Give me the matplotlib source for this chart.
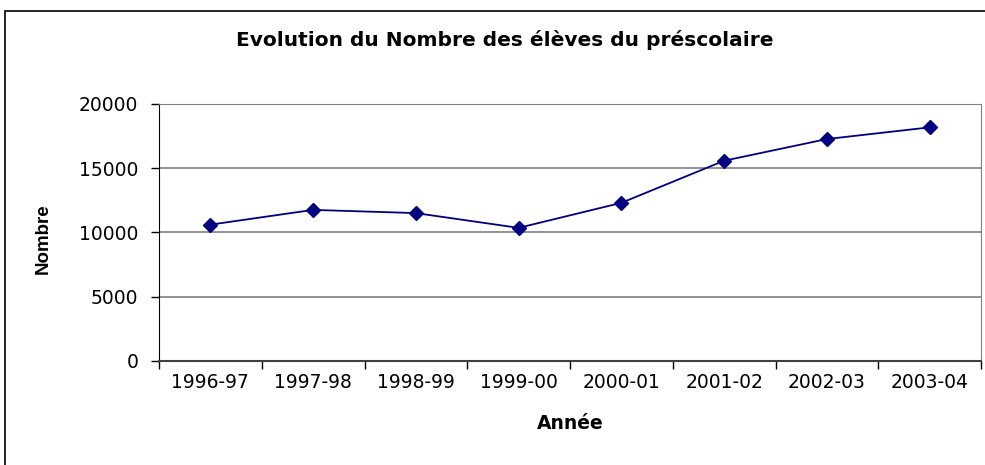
import matplotlib.pyplot as plt
from matplotlib.patches import Rectangle

# data
annees = ['1996-97', '1997-98', '1998-99', '1999-00', '2000-01', '2001-02', '2002-03', '2003-04']
nombre = [10600, 11750, 11500, 10350, 12300, 15580, 17270, 18180]

# the reference text is a wide, Arial-like face: DejaVu Sans fits its widths best
plt.rcParams['font.family'] = ['DejaVu Sans']

fig = plt.figure(figsize=(9.85, 4.65), dpi=100)
ax = fig.add_axes([159 / 985, 1 - 360.7 / 465, (981 - 159) / 985, (360.7 - 104) / 465])

x = list(range(len(annees)))
ax.plot(x, nombre, color='#000080', linewidth=1.3, marker='D', markersize=7,
        markerfacecolor='#000080', markeredgecolor='#000080')

ax.set_xlim(-0.5, len(annees) - 0.5)
ax.set_ylim(0, 20000)
ax.set_yticks([0, 5000, 10000, 15000, 20000])
ax.set_xticks(x)
ax.set_xticklabels(annees)
# category ticks sit between the categories
ax.set_xticks([i - 0.5 for i in range(len(annees) + 1)], minor=True)
ax.tick_params(axis='x', which='major', length=0, pad=9, labelsize=13.5)
ax.tick_params(axis='x', which='minor', length=6, width=1, color='#000000')
ax.tick_params(axis='y', length=6, width=1, pad=9, labelsize=13.5)

ax.grid(axis='y', color='#808080', linewidth=1.2)
ax.set_axisbelow(True)
ax.spines['top'].set_color('#808080')
ax.spines['right'].set_color('#808080')
ax.spines['left'].set_color('#000000')
ax.spines['bottom'].set_color('#404040')
ax.spines['bottom'].set_linewidth(1.5)

ax.set_xlabel('Année', fontsize=13.5, fontweight='bold', labelpad=16)
# vertical text is not widened in the reference, so Arial-like metrics fit here
ax.set_ylabel('Nombre', fontsize=13.5, fontweight='bold',
              family=['Liberation Sans', 'DejaVu Sans'])
ax.yaxis.set_label_coords(-0.130, 0.475)
fig.text(505 / 985, 1 - 40 / 465, 'Evolution du Nombre des élèves du préscolaire',
         ha='center', va='center', fontsize=14.5, fontweight='bold')

# outer chart frame, cut off at right and bottom like the reference
fig.patches.append(Rectangle((5 / 985, -0.1), 1.1, 1 - 11 / 465 + 0.1, transform=fig.transFigure,
                             fill=False, edgecolor='black', linewidth=1.2))

fig.savefig('out.png', dpi=100)
